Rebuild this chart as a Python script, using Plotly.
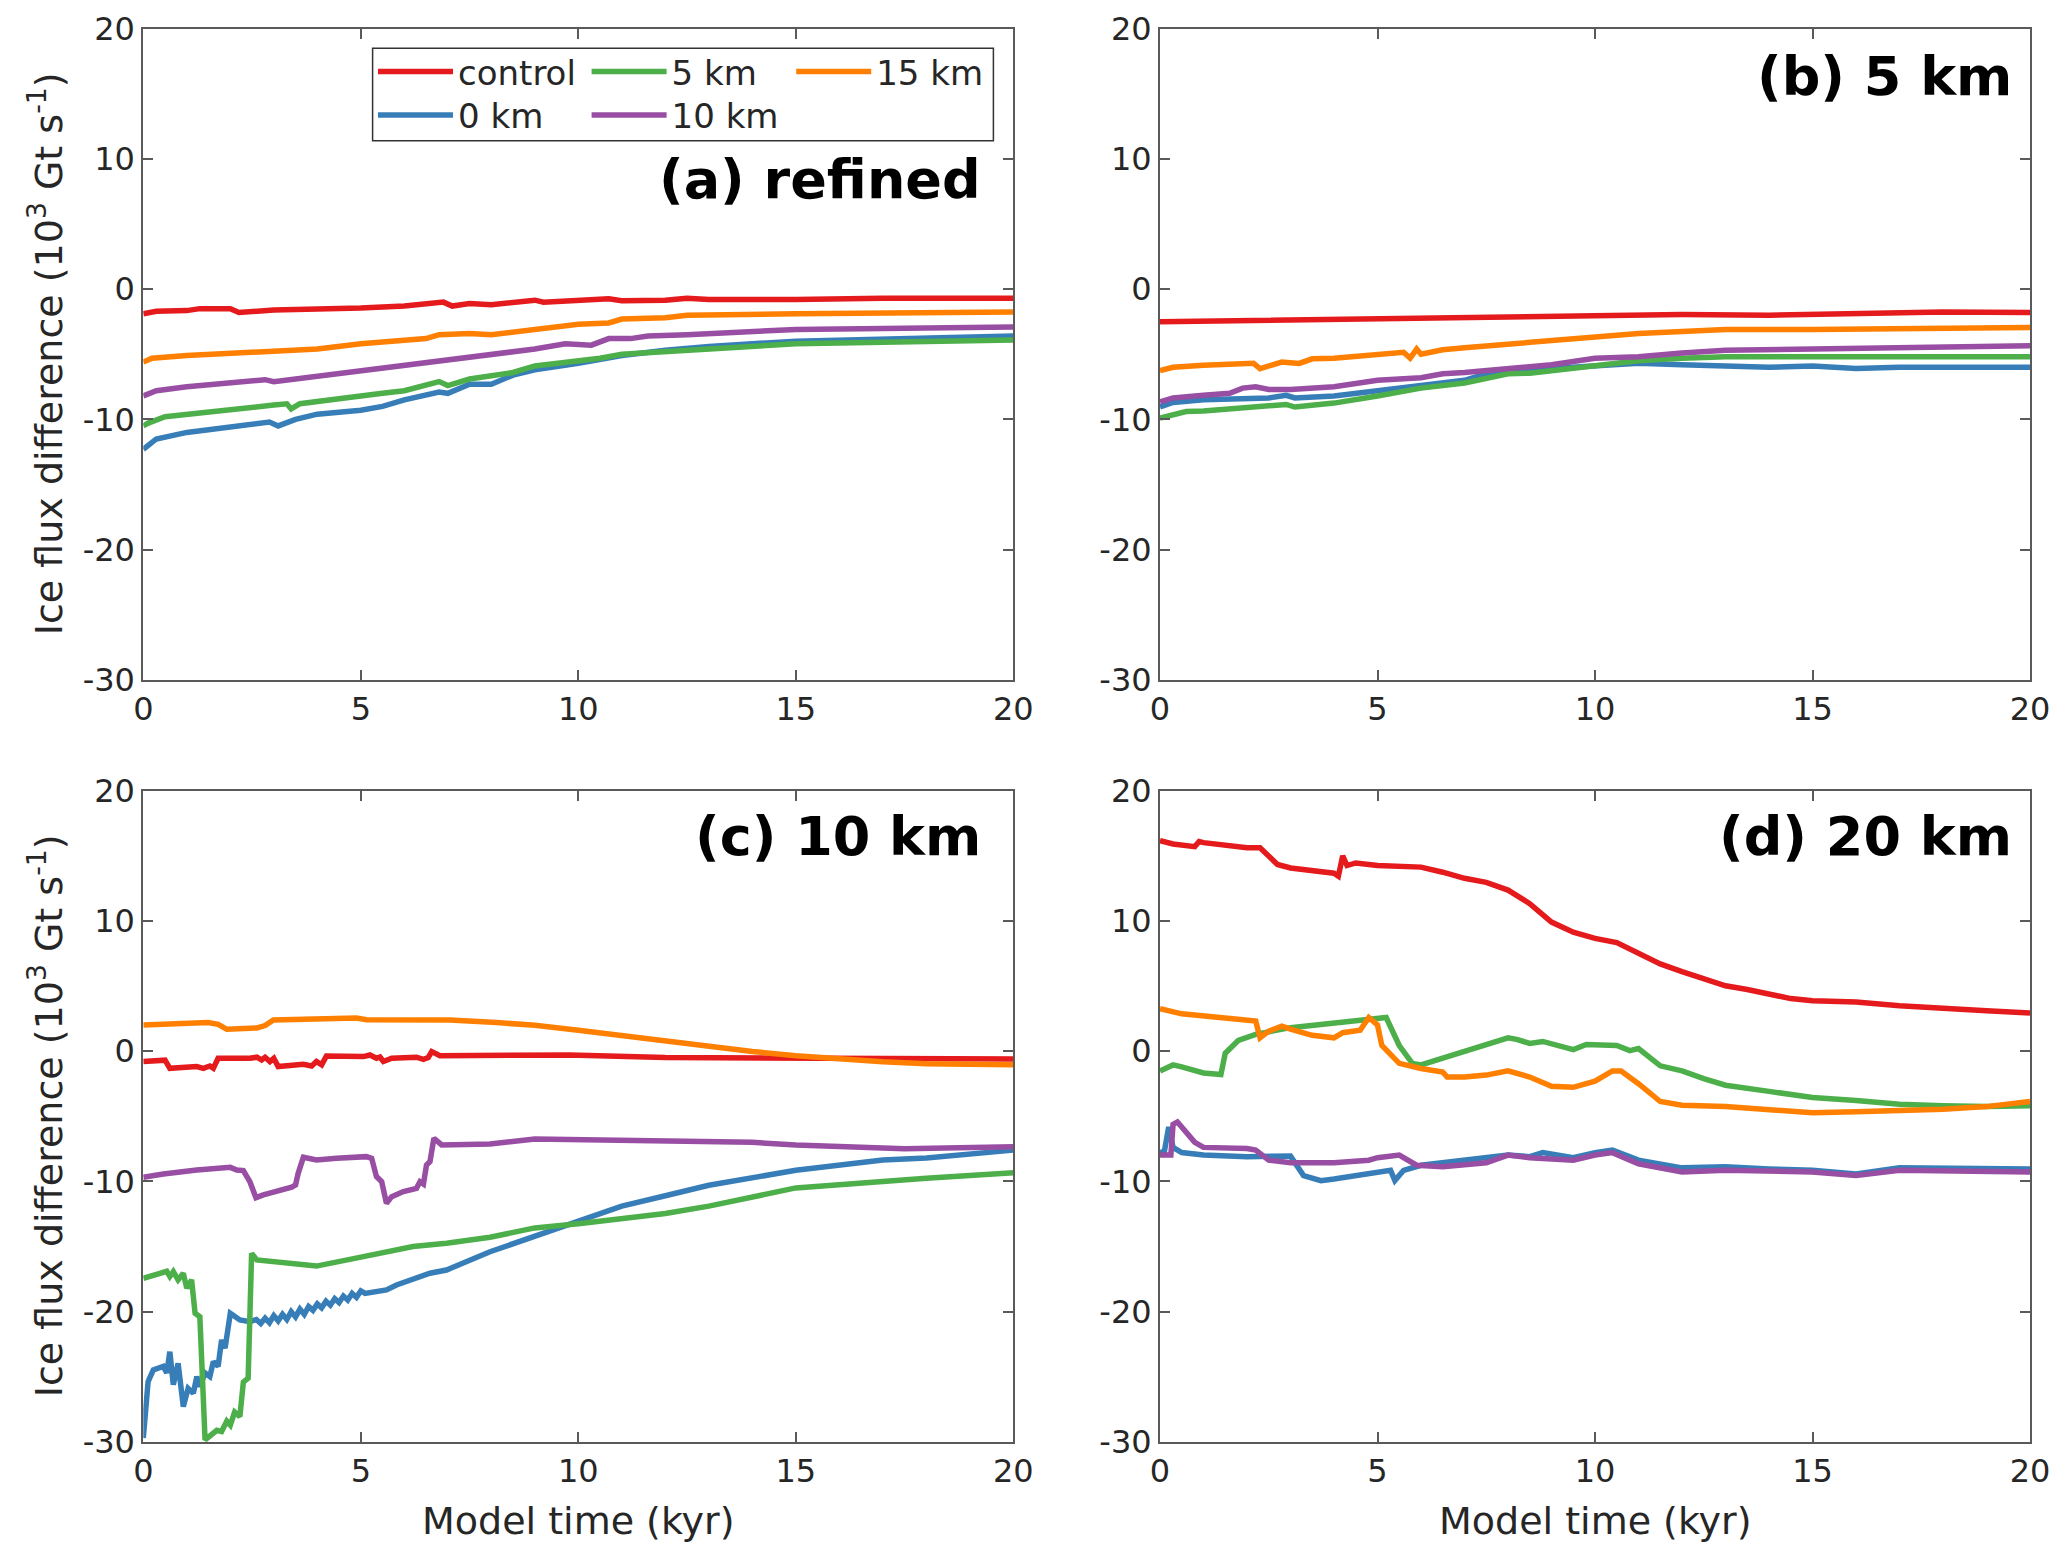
import plotly.graph_objects as go
from plotly.subplots import make_subplots

# Series: time in kyr, ice flux difference in 10^3 Gt/s.

# (a) refined
a_control_t = [0, 0.3, 1.0, 1.3, 2.0, 2.2, 3.0, 4.0, 5.0, 6.0, 6.5, 6.9, 7.1, 7.5, 8.0, 8.5, 9.0, 9.2, 10.0, 10.7, 11.0, 12.0, 12.5, 13.0, 15.0, 17.0, 20.0]
a_control_v = [-1.9, -1.7, -1.65, -1.5, -1.5, -1.8, -1.6, -1.55, -1.45, -1.3, -1.15, -1.0, -1.3, -1.1, -1.2, -1.0, -0.85, -1.0, -0.9, -0.75, -0.9, -0.85, -0.7, -0.8, -0.8, -0.7, -0.7]
a_0km_t = [0, 0.3, 1, 2, 2.9, 3.1, 3.5, 4, 5, 5.5, 6, 6.8, 7.0, 7.5, 8, 8.5, 9, 10, 11, 12, 13, 15, 20]
a_0km_v = [-12.3, -11.5, -11.0, -10.6, -10.2, -10.5, -10.0, -9.6, -9.3, -9.0, -8.5, -7.9, -8.0, -7.3, -7.3, -6.6, -6.2, -5.7, -5.1, -4.7, -4.4, -4.0, -3.6]
a_5km_t = [0, 0.1, 0.5, 1, 2, 3, 3.3, 3.4, 3.6, 4, 5, 5.5, 6, 6.8, 7.0, 7.5, 8, 8.5, 9, 9.5, 10, 10.5, 11, 12, 13, 15, 20]
a_5km_v = [-10.5, -10.3, -9.8, -9.6, -9.3, -8.9, -8.8, -9.2, -8.8, -8.6, -8.2, -8.0, -7.8, -7.1, -7.4, -6.9, -6.7, -6.4, -5.9, -5.7, -5.6, -5.3, -5.0, -4.8, -4.5, -4.2, -3.9]
a_10km_t = [0, 0.3, 1, 2, 2.8, 3.0, 4, 5, 6, 7, 8, 9, 9.7, 10.3, 10.7, 11.2, 11.6, 12.5, 15, 20]
a_10km_v = [-8.2, -7.8, -7.5, -7.2, -6.95, -7.1, -6.7, -6.3, -5.9, -5.5, -5.0, -4.6, -4.2, -4.3, -3.8, -3.8, -3.6, -3.5, -3.1, -2.9]
a_15km_t = [0, 0.2, 1, 3, 3.7, 4, 5, 6, 6.5, 6.8, 7.5, 8, 9, 9.3, 10, 10.7, 11, 12, 12.5, 15, 20]
a_15km_v = [-5.6, -5.3, -5.1, -4.8, -4.7, -4.6, -4.2, -3.9, -3.8, -3.5, -3.4, -3.5, -3.1, -2.9, -2.7, -2.6, -2.3, -2.2, -2.0, -1.9, -1.75]

# (b) 5 km
b_control_t = [0, 5, 8, 10, 12, 14, 16, 18, 20]
b_control_v = [-2.5, -2.3, -2.1, -2.0, -1.95, -2.0, -1.9, -1.75, -1.8]
b_0km_t = [0, 0.3, 1, 2, 2.5, 2.9, 3.1, 4, 4.5, 5, 6, 7, 7.5, 8, 9, 10, 11, 12, 13, 14, 15, 16, 17, 20]
b_0km_v = [-9.05, -8.7, -8.5, -8.35, -8.35, -8.15, -8.35, -8.2, -8.0, -7.8, -7.3, -7.0, -6.5, -6.3, -6.1, -5.9, -5.7, -5.8, -5.9, -6.0, -5.9, -6.1, -6.0, -6.0]
b_5km_t = [0, 0.3, 0.6, 1, 2, 2.9, 3.1, 4, 5, 6, 7, 7.6, 8, 8.5, 9, 9.5, 10, 11, 12, 13, 15, 17, 20]
b_5km_v = [-9.9, -9.7, -9.4, -9.35, -9.1, -8.85, -9.05, -8.75, -8.2, -7.6, -7.2, -6.75, -6.5, -6.45, -6.25, -6.0, -5.9, -5.5, -5.3, -5.2, -5.2, -5.2, -5.2]
b_10km_t = [0, 0.3, 1, 1.6, 1.9, 2.2, 2.5, 3, 4, 4.5, 5, 6, 6.5, 7, 8, 9, 10, 11, 12, 13, 15, 17, 20]
b_10km_v = [-8.65, -8.35, -8.15, -8.0, -7.6, -7.5, -7.7, -7.7, -7.5, -7.2, -7.0, -6.8, -6.5, -6.4, -6.1, -5.8, -5.3, -5.2, -4.9, -4.7, -4.6, -4.5, -4.35]
b_15km_t = [0, 0.3, 1, 2, 2.15, 2.3, 2.8, 3.2, 3.5, 4, 5, 5.6, 5.75, 5.9, 6.0, 6.5, 7, 8, 9, 10, 11, 12, 13, 15, 17, 20]
b_15km_v = [-6.25, -6.0, -5.85, -5.7, -5.7, -6.1, -5.6, -5.7, -5.35, -5.3, -5.0, -4.85, -5.3, -4.6, -5.0, -4.65, -4.5, -4.2, -3.9, -3.6, -3.4, -3.25, -3.1, -3.1, -3.05, -2.95]

# (c) 10 km
c_control_t = [0, 0.42, 0.5, 0.61, 0.84, 1.23, 1.38, 1.53, 1.61, 1.72, 2.45, 2.61, 2.72, 2.8, 2.91, 3.0, 3.1, 3.68, 3.87, 3.98,
               4.1, 4.21, 5.06, 5.21, 5.36, 5.44, 5.52, 5.71, 6.28, 6.44, 6.55, 6.63, 6.82, 9.8, 12, 15, 20]
c_control_v = [-0.8, -0.63, -0.7, -1.32, -1.24, -1.19, -1.32, -1.14, -1.32, -0.55, -0.55, -0.47, -0.68, -0.47, -0.8, -0.55, -1.19, -1.01, -1.14, -0.8,
               -1.06, -0.37, -0.42, -0.3, -0.55, -0.45, -0.8, -0.55, -0.47, -0.63, -0.5, -0.04, -0.35, -0.3, -0.5, -0.55, -0.6]
c_0km_t = [0, 0.11, 0.23, 0.46, 0.54, 0.61, 0.69, 0.8, 0.92, 1.03, 1.15, 1.23, 1.3, 1.42, 1.53, 1.61, 1.72, 1.8, 1.88, 2.0, 2.22, 2.45,
           2.6, 2.7, 2.8, 2.9, 3.0, 3.1, 3.2, 3.3, 3.4, 3.5, 3.6, 3.7, 3.8, 3.9, 4.0, 4.1, 4.2, 4.3, 4.4, 4.5, 4.6, 4.7, 4.8, 4.9, 5.0, 5.1,
           5.59, 5.82, 6.59, 6.97, 7.97, 9, 10, 11, 12, 13, 15, 17, 18, 20]
c_0km_v = [-29.7, -25.37, -24.47, -24.2, -24.7, -23.07, -25.6, -23.96, -27.28, -25.88, -26.26, -24.98, -25.75, -24.7, -24.98, -23.83, -24.2, -22.17, -22.8, -20.12, -20.63, -20.76,
           -20.6, -20.9, -20.5, -20.85, -20.3, -20.7, -20.2, -20.6, -20.0, -20.4, -19.8, -20.2, -19.6, -19.9, -19.4, -19.7, -19.2, -19.5, -19.0, -19.3, -18.8, -19.1, -18.6, -18.9, -18.4, -18.6,
           -18.33, -17.95, -17.05, -16.8, -15.4, -14.24, -13.06, -11.9, -11.1, -10.3, -9.15, -8.36, -8.2, -7.6]
c_5km_t = [0, 0.46, 0.54, 0.61, 0.69, 0.8, 0.92, 1.0, 1.11, 1.19, 1.3, 1.42, 1.53, 1.69, 1.8, 1.92, 2.0, 2.1, 2.22, 2.3,
           2.41, 2.49, 2.61, 3.14, 3.98, 5.06, 6.2, 6.97, 7.97, 9, 10, 12, 13, 15, 17, 18, 20]
c_5km_v = [-17.44, -16.92, -16.9, -17.3, -16.92, -17.56, -17.05, -18.2, -17.56, -20.12, -20.38, -29.84, -29.5, -29.1, -29.2, -28.4, -28.7, -27.7, -28.05, -25.4,
           -25.1, -15.52, -16.03, -16.21, -16.5, -15.77, -15.0, -14.75, -14.29, -13.57, -13.25, -12.47, -11.9, -10.5, -9.93, -9.75, -9.34]
c_10km_t = [0, 0.46, 1.23, 1.76, 2.0, 2.15, 2.3, 2.45, 2.59, 2.76, 2.99, 3.22, 3.41, 3.5, 3.56, 3.68, 3.98, 4.44, 4.9, 5.13,
            5.25, 5.36, 5.48, 5.59, 5.71, 5.98, 6.28, 6.36, 6.44, 6.51, 6.59, 6.68, 6.86, 7.36, 7.97, 9.0, 10, 12, 14, 15, 17.5, 20]
c_10km_v = [-9.68, -9.43, -9.12, -9.0, -8.92, -9.12, -9.17, -10.02, -11.25, -11.04, -10.86, -10.66, -10.45, -10.27, -9.38, -8.15, -8.35, -8.23, -8.1, -8.1,
            -8.23, -9.63, -10.02, -11.68, -11.17, -10.78, -10.53, -10.02, -10.2, -8.74, -8.48, -6.69, -7.2, -7.2, -7.13, -6.75, -6.8, -6.9, -7.0, -7.2, -7.5, -7.35]
c_15km_t = [0, 1.49, 1.72, 1.92, 2.61, 2.8, 2.99, 4.9, 5.13, 5.98, 6.2, 7.05, 8.12, 9.0, 10, 11, 12, 13, 14, 15, 16, 17, 18, 20]
c_15km_v = [2.0, 2.2, 2.05, 1.67, 1.78, 1.96, 2.39, 2.54, 2.4, 2.4, 2.47, 2.39, 2.19, 1.98, 1.6, 1.2, 0.71, 0.31, -0.03, -0.35, -0.62, -0.82, -0.97, -1.05]

# (d) 20 km
d_control_t = [0, 0.3, 0.8, 0.9, 1.0, 2.0, 2.3, 2.4, 2.7, 3.0, 4.0, 4.1, 4.2, 4.3, 4.5, 5, 6, 6.5, 7, 7.5,
               8, 8.5, 9, 9.5, 10, 10.5, 11, 11.5, 12, 12.5, 13, 13.5, 14, 14.5, 15, 16, 17, 18, 19, 20]
d_control_v = [16.16, 15.9, 15.69, 16.08, 16.0, 15.61, 15.61, 15.3, 14.32, 14.05, 13.65, 13.42, 14.98, 14.24, 14.44, 14.24, 14.12, 13.73, 13.26, 12.95,
               12.36, 11.31, 9.9, 9.12, 8.65, 8.33, 7.47, 6.69, 6.1, 5.52, 5.01, 4.73, 4.34, 4.03, 3.87, 3.76, 3.48, 3.25, 3.09, 2.93]
d_0km_t = [0, 0.1, 0.2, 0.3, 0.5, 1, 2, 3, 3.3, 3.7, 4, 5, 5.3, 5.4, 5.6, 6, 7, 8, 8.5, 8.8, 9.5, 10, 10.4, 11, 12, 13, 14, 15, 16, 17, 20]
d_0km_v = [-7.79, -7.7, -5.83, -7.39, -7.79, -7.98, -8.1, -8.06, -9.55, -9.94, -9.82, -9.35, -9.15, -9.94, -9.15, -8.76, -8.37, -7.98, -8.1, -7.79,
           -8.18, -7.79, -7.59, -8.37, -8.96, -8.88, -9.04, -9.15, -9.43, -8.96, -9.04]
d_5km_t = [0, 0.3, 0.5, 1.0, 1.4, 1.5, 1.8, 2.2, 3, 4, 5.2, 5.5, 5.8, 6, 6.5, 7, 8, 8.2, 8.5, 8.8,
           9.5, 9.8, 10.5, 10.8, 11.0, 11.5, 12, 12.5, 13, 14, 15, 16, 17, 18, 19, 20]
d_5km_v = [-1.52, -1.06, -1.21, -1.68, -1.8, -0.16, 0.82, 1.29, 1.8, 2.19, 2.58, 0.43, -0.94, -1.06, -0.55, 0.04, 1.02, 0.9, 0.59, 0.74,
           0.12, 0.51, 0.43, 0.04, 0.2, -1.13, -1.52, -2.11, -2.62, -3.09, -3.56, -3.79, -4.07, -4.19, -4.26, -4.19]
d_10km_t = [0, 0.25, 0.3, 0.4, 0.8, 1.0, 2, 2.2, 2.5, 3, 4, 4.8, 5, 5.5, 5.9, 6.5, 7.5, 8, 8.5, 9, 9.5, 10, 10.4, 11, 12, 13, 15, 16, 17, 20]
d_10km_v = [-7.98, -7.98, -5.63, -5.44, -7.0, -7.39, -7.47, -7.59, -8.37, -8.57, -8.57, -8.37, -8.18, -7.98, -8.76, -8.88, -8.57, -7.98, -8.18, -8.26,
            -8.37, -7.98, -7.79, -8.65, -9.27, -9.15, -9.27, -9.55, -9.15, -9.27]
d_15km_t = [0, 0.5, 2.2, 2.3, 2.5, 2.8, 3.0, 3.5, 4.0, 4.2, 4.6, 4.8, 5.0, 5.1, 5.5, 6, 6.5, 6.6, 7, 7.5,
            8, 8.5, 9, 9.5, 10, 10.4, 10.6, 11, 11.5, 12, 13, 14, 15, 16, 17, 18, 19, 20]
d_15km_v = [3.25, 2.86, 2.31, 1.02, 1.53, 1.92, 1.68, 1.21, 1.02, 1.41, 1.6, 2.58, 2.0, 0.43, -0.94, -1.33, -1.6, -1.99, -1.99, -1.84,
            -1.52, -1.99, -2.7, -2.78, -2.31, -1.52, -1.52, -2.5, -3.87, -4.15, -4.26, -4.46, -4.73, -4.65, -4.58, -4.46, -4.26, -3.87]

names = ['control', '0 km', '5 km', '10 km', '15 km']
colors = ['#e41a1c', '#377eb8', '#4daf4a', '#984ea3', '#ff7f00']

panels = [
    ('(a) refined', [(a_control_t, a_control_v), (a_0km_t, a_0km_v), (a_5km_t, a_5km_v), (a_10km_t, a_10km_v), (a_15km_t, a_15km_v)]),
    ('(b) 5 km', [(b_control_t, b_control_v), (b_0km_t, b_0km_v), (b_5km_t, b_5km_v), (b_10km_t, b_10km_v), (b_15km_t, b_15km_v)]),
    ('(c) 10 km', [(c_control_t, c_control_v), (c_0km_t, c_0km_v), (c_5km_t, c_5km_v), (c_10km_t, c_10km_v), (c_15km_t, c_15km_v)]),
    ('(d) 20 km', [(d_control_t, d_control_v), (d_0km_t, d_0km_v), (d_5km_t, d_5km_v), (d_10km_t, d_10km_v), (d_15km_t, d_15km_v)]),
]

x_ticks = [0, 5, 10, 15, 20]
y_ticks = [-30, -20, -10, 0, 10, 20]
y_ticktext = ['-30', '-20', '-10', '0', '10', '20']

FONT = 'DejaVu Sans'
AXIS_GREY = '#5a5a5a'
W, H = 2067, 1559
OFF = 8  # the page body adds an 8 px margin, take it back out


def px_x(p):
    return (p - OFF) / W


def px_y(p):
    return 1 - (p - OFF) / H


fig = make_subplots(rows=2, cols=2)

# one legend per entry so the 3 x 2 grid can be placed exactly
legend_ids = ['legend', 'legend2', 'legend3', 'legend4', 'legend5']
for k, (label, series) in enumerate(panels):
    row, col = k // 2 + 1, k % 2 + 1
    for i, (t, v) in enumerate(series):
        fig.add_trace(go.Scatter(
            x=t, y=v, mode='lines', name=names[i],
            line=dict(color=colors[i], width=5.5),
            showlegend=(k == 0), legend=legend_ids[i],
        ), row=row, col=col)

# panel positions in pixels of the 2067x1559 page
x_px = [(143.3, 1013.3), (1160, 2030)]
y_px = [(28.5, 680), (790.5, 1442)]

for k in range(4):
    r, c = k // 2, k % 2
    sfx = '' if k == 0 else str(k + 1)
    fig.layout['xaxis' + sfx].update(
        domain=[px_x(x_px[c][0]), px_x(x_px[c][1])], range=[0, 20], tickvals=x_ticks,
        showline=True, mirror='ticks', linecolor=AXIS_GREY, linewidth=2,
        ticks='inside', ticklen=10, tickwidth=2, tickcolor=AXIS_GREY,
        showgrid=False, zeroline=False,
        tickfont=dict(family=FONT, size=32, color='#262626'),
    )
    fig.layout['yaxis' + sfx].update(
        domain=[px_y(y_px[r][1]), px_y(y_px[r][0])], range=[-30, 20],
        tickvals=y_ticks, ticktext=y_ticktext,
        showline=True, mirror='ticks', linecolor=AXIS_GREY, linewidth=2,
        ticks='inside', ticklen=10, tickwidth=2, tickcolor=AXIS_GREY,
        showgrid=False, zeroline=False,
        tickfont=dict(family=FONT, size=32, color='#262626'),
    )

# panel labels
label_pos = [(0.965, 0.768), (0.982, 0.926), (0.965, 0.930), (0.982, 0.930)]
for k, (label, _) in enumerate(panels):
    sfx = '' if k == 0 else str(k + 1)
    fig.add_annotation(
        text=f'<b>{label}</b>', xref=f'x{sfx} domain', yref=f'y{sfx} domain',
        x=label_pos[k][0], y=label_pos[k][1], xanchor='right', yanchor='middle',
        showarrow=False, font=dict(family=FONT, size=54, color='black'),
    )

# axis titles
ytitle = 'Ice flux difference (10<sup>3</sup> Gt s<sup>-1</sup>)'
for a, b in y_px:
    fig.add_annotation(text=ytitle, xref='paper', yref='paper', x=px_x(46), y=px_y((a + b) / 2),
                       textangle=-90, showarrow=False, xanchor='center', yanchor='middle',
                       font=dict(family=FONT, size=38, color='#262626'))
for a, b in x_px:
    fig.add_annotation(text='Model time (kyr)', xref='paper', yref='paper', x=px_x((a + b) / 2), y=px_y(1521),
                       showarrow=False, xanchor='center', yanchor='middle',
                       font=dict(family=FONT, size=38, color='#262626'))

# legend box
fig.add_shape(type='rect', xref='paper', yref='paper', x0=px_x(372.6), x1=px_x(993.4),
              y0=px_y(140.7), y1=px_y(48.3),
              line=dict(color='#333333', width=1.5), fillcolor='white', layer='above')

# legend entry positions: (left edge, top edge) in px
leg_xy = [(373, 43), (373, 86.3), (586.6, 43), (586.6, 86.3), (791.2, 43)]
leg_layout = {}
for lid, (lx, ly) in zip(legend_ids, leg_xy):
    leg_layout[lid] = dict(x=px_x(lx), y=px_y(ly), xanchor='left', yanchor='top',
                           bgcolor='rgba(0,0,0,0)', itemwidth=75,
                           font=dict(family=FONT, size=34, color='#262626'))

fig.update_layout(
    width=W, height=H,
    margin=dict(l=0, r=0, t=0, b=0, autoexpand=False),
    paper_bgcolor='white', plot_bgcolor='white',
    **leg_layout,
)

fig.write_html('out.html')
